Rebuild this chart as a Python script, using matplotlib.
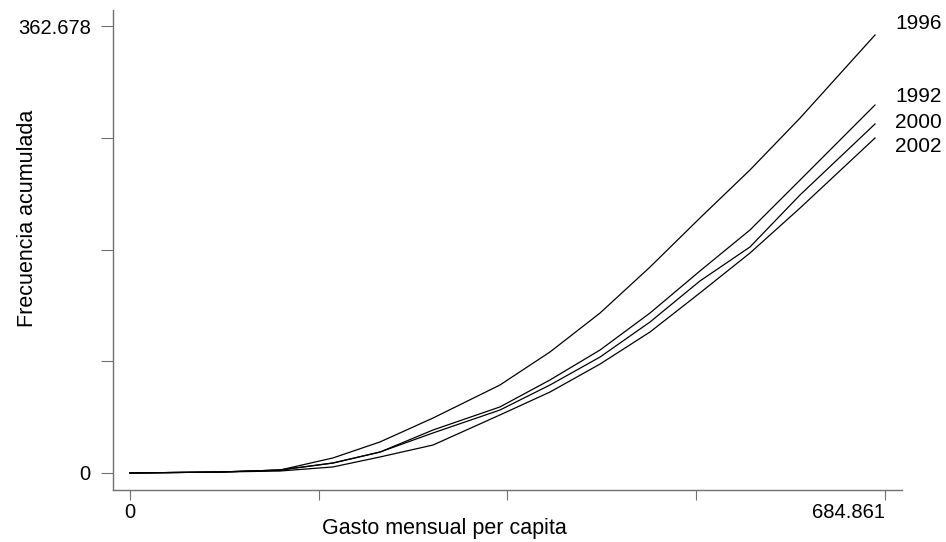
import matplotlib
matplotlib.use("Agg")
import matplotlib.pyplot as plt
import numpy as np

plt.rcParams['font.family'] = ['Liberation Sans', 'DejaVu Sans']

# valores
gasto = [0, 81.6, 136.0, 184.1, 226.8, 274.9, 335.6, 381.0, 426.4, 471.7, 517.0, 562.4, 607.8, 675.8]
f1996 = [0, 0.8, 2.4, 12.2, 25.2, 44.6, 71.4, 98.2, 129.8, 167.1, 206.9, 245.9, 288.0, 355.4]
f1992 = [0, 0.8, 2.4, 8.1, 17.0, 34.9, 53.6, 75.5, 99.8, 129.8, 163.9, 197.2, 237.7, 298.6]
f2000 = [0, 0.8, 2.4, 8.1, 17.0, 32.5, 51.1, 71.4, 94.1, 122.5, 155.8, 183.4, 225.6, 283.2]
f2002 = [0, 0.8, 1.6, 4.9, 13.0, 22.7, 47.1, 65.7, 88.4, 114.4, 146.1, 178.5, 215.0, 271.8]

anios = ['1996', '1992', '2000', '2002']
series = [f1996, f1992, f2000, f2002]
label_y = [364.7, 305.9, 284.8, 265.3]

xmax = 684.861
ymax = 362.678

fig = plt.figure(figsize=(9.46, 5.42), dpi=100)
ax = fig.add_axes([113/946, 1-490/542, (902-113)/946, (490-10)/542])

for s in series:
    ax.plot(gasto, s, color='black', lw=0.9)

for a, yy in zip(anios, label_y):
    ax.text(693.9, yy, a, ha='left', va='center', fontsize=15, clip_on=False)

ax.set_xlim(-15.4, 700.3)
ax.set_ylim(-13.8, 375.7)

ax.set_xticks(np.linspace(0, xmax, 5))
ax.set_xticklabels(['0', '', '', '', '684.861'])
ax.set_yticks(np.linspace(0, ymax, 5))
ax.set_yticklabels(['0', '', '', '', '362.678'])

for sp in ['top', 'right']:
    ax.spines[sp].set_visible(False)
for sp in ['left', 'bottom']:
    ax.spines[sp].set_color('#707070')
    ax.spines[sp].set_linewidth(1.0)

ax.tick_params(axis='y', length=9, width=0.8, color='#707070', pad=7, labelsize=14.5)
ax.tick_params(axis='x', length=7, width=0.8, color='#707070', pad=2, labelsize=14.5)
lbl = ax.get_xticklabels()[-1]
lbl.set_horizontalalignment('right')

ax.set_xlabel('Gasto mensual per capita', fontsize=15.5)
ax.set_ylabel('Frecuencia acumulada', fontsize=15.5)
ax.xaxis.set_label_coords(0.4195, -0.058)
ax.yaxis.set_label_coords(-0.095, 0.5667)

fig.savefig('out.png', dpi=100)
